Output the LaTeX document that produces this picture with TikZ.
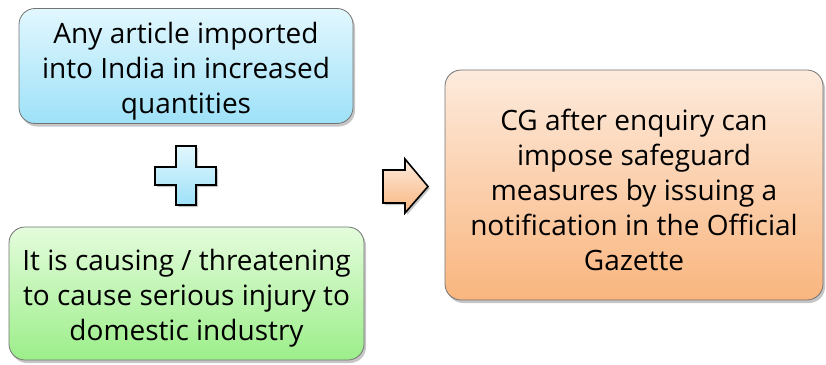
\documentclass[tikz,border=0pt]{standalone}
\usepackage{fontspec}
\setmainfont{Open Sans}
\usetikzlibrary{shadows}
\definecolor{bluetop}{HTML}{E2F7FE}
\definecolor{bluebot}{HTML}{9EE1F8}
\definecolor{greentop}{HTML}{E4FCDC}
\definecolor{greenbot}{HTML}{9CEE8A}
\definecolor{orangetop}{HTML}{FDEBDD}
\definecolor{orangebot}{HTML}{F9B57E}
\newcommand{\lift}{\rule{0pt}{31pt}}
\begin{document}
\begin{tikzpicture}[x=1pt,y=-1pt,font=\fontsize{28}{35}\selectfont,
	box/.style={draw=gray!90!black,line width=0.8pt,rounded corners=16pt,align=center,inner sep=0pt,
		drop shadow={shadow xshift=2pt,shadow yshift=-3pt,opacity=0.45}},
	sign/.style={draw=black,line width=1.6pt,drop shadow={shadow xshift=2pt,shadow yshift=-2pt,opacity=0.45}}]
	\useasboundingbox (0,0) rectangle (826,364);
	\node[box,top color=bluetop,bottom color=bluebot,minimum width=334pt,minimum height=115pt] (art) at (186,66)
		{\lift Any article imported\\into India in increased\\quantities};
	\node[box,top color=greentop,bottom color=greenbot,minimum width=355pt,minimum height=133pt] (inj) at (186.5,293.5)
		{\lift It is causing / threatening\\to cause serious injury to\\domestic industry};
	\node[box,top color=orangetop,bottom color=orangebot,minimum width=378pt,minimum height=230pt] (cg) at (634,185)
		{\lift CG after enquiry can\\impose safeguard\\measures by issuing a\\notification in the Official\\Gazette};
	%plus sign and arrow
	\draw[sign,top color=bluetop,bottom color=bluebot] (176,146) -- (196,146) -- (196,167) -- (216,167) -- (216,185) -- (196,185)
		-- (196,205) -- (176,205) -- (176,185) -- (155,185) -- (155,167) -- (176,167) -- cycle;
	\draw[sign,top color=orangetop,bottom color=orangebot] (383,170) -- (405,170) -- (405,159) -- (428,186.5) -- (405,213)
		-- (405,203) -- (383,203) -- cycle;
\end{tikzpicture}
\end{document}
